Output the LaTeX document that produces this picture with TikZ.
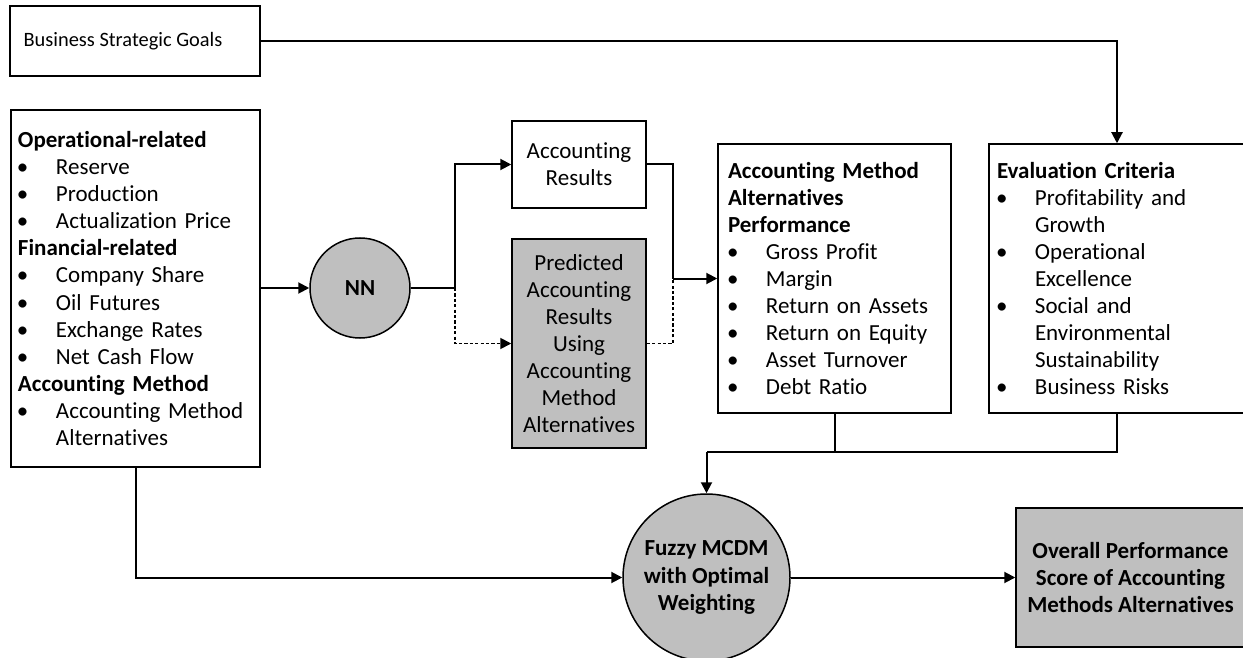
\documentclass[tikz,border=0pt]{standalone}
\usepackage{fontspec}
\setmainfont{Carlito}[Ligatures={NoCommon}]
\usetikzlibrary{arrows.meta}
\definecolor{boxgray}{HTML}{BFBFBF}
\newcommand\bul[1]{\makebox[19pt][l]{\hspace{-0.5pt}\textbullet}#1}
\newcommand\cnt[1]{\hspace*{19pt}#1}
\begin{document}
\begin{tikzpicture}[x=0.5pt,y=-0.5pt,
  every node/.style={font=\fontsize{11.5}{13.55}\selectfont},
  box/.style={draw,line width=0.75pt,inner sep=0pt,align=center},
  listbox/.style={box,align=left},
  graybox/.style={box,fill=boxgray},
  proc/.style={circle,draw,line width=0.75pt,fill=boxgray,inner sep=0pt,align=center,
    font=\fontsize{11.5}{13.55}\selectfont\bfseries},
  conn/.style={line width=1pt},
  arr/.style={conn,-{Triangle[length=5.5pt,width=5.5pt]}},
  dotline/.style={line width=0.9pt,dash pattern=on 1.6pt off 1.1pt},
  darr/.style={dotline,-{Triangle[length=5.5pt,width=5.5pt]}}]
\clip (0,0) rectangle (1243,658);
\fill[white] (0,0) rectangle (1243,658);

% nodes
\node[box,minimum width=125pt,minimum height=35pt,font=\fontsize{10.2}{12}\selectfont] (goals) at (135,41) {Business Strategic Goals\hspace*{12pt}};

\node[listbox,minimum width=124.5pt,minimum height=178.5pt,text width=117.5pt] (inputs) at (135.5,288.5) {%
\textbf{Operational-related}\\
\bul{Reserve}\\
\bul{Production}\\
\bul{Actualization Price}\\
\textbf{Financial-related}\\
\bul{Company Share}\\
\bul{Oil Futures}\\
\bul{Exchange Rates}\\
\bul{Net Cash Flow}\\
\textbf{Accounting Method}\\
\bul{Accounting Method}\\
\cnt{Alternatives}};

\node[proc,minimum size=50pt] (nn) at (360,288) {NN};

\node[box,minimum width=67pt,minimum height=43.5pt] (accres) at (579,164.5) {Accounting\\Results};

\node[graybox,minimum width=67pt,minimum height=104.5pt] (pred) at (579,343.5)
  {Predicted\\Accounting\\Results\\Using\\Accounting\\Method\\Alternatives};

\node[listbox,minimum width=116.5pt,minimum height=134.5pt,text width=106.5pt] (am) at (834.5,278.5) {%
\textbf{Accounting Method}\\
\textbf{Alternatives}\\
\textbf{Performance}\\
\bul{Gross Profit}\\
\bul{Margin}\\
\bul{Return on Assets}\\
\bul{Return on Equity}\\
\bul{Asset Turnover}\\
\bul{Debt Ratio}};

\node[listbox,minimum width=128pt,minimum height=134.5pt,text width=120pt] (eval) at (1117,278.5) {%
\textbf{Evaluation Criteria}\\
\bul{Profitability and}\\
\cnt{Growth}\\
\bul{Operational}\\
\cnt{Excellence}\\
\bul{Social and}\\
\cnt{Environmental}\\
\cnt{Sustainability}\\
\bul{Business Risks}};

\node[proc,minimum size=83.5pt] (fuzzy) at (706.5,577.5) {Fuzzy MCDM\\with Optimal\\Weighting};

\node[graybox,minimum width=114.5pt,minimum height=69.5pt,font=\fontsize{11.5}{13.55}\selectfont\bfseries] (overall) at (1130.5,577.5)
  {Overall Performance\\Score of Accounting\\Methods Alternatives};

% junction coordinates
\coordinate (j1) at (455,288);
\coordinate (j2) at (673,278.5);
\coordinate (j3) at (706.5,452);

% connectors
\draw[arr] (goals.east) -| (eval.north);
\draw[arr] (inputs.east |- nn.west) -- (nn.west);
\draw[conn] (nn.east) -- (j1);
\draw[arr] (j1) |- (accres.west);
\draw[darr] (j1) |- (pred.west);
\draw[conn] (accres.east) -| (j2);
\draw[dotline] (pred.east) -| (j2);
\draw[arr] (j2) -- (am.west);
\draw[conn] (am.south) |- (j3);
\draw[conn] (eval.south) |- (j3);
\draw[arr] (j3) -- (fuzzy.north);
\draw[arr] (inputs.south) |- (fuzzy.west);
\draw[arr] (fuzzy.east) -- (overall.west);
\end{tikzpicture}
\end{document}
